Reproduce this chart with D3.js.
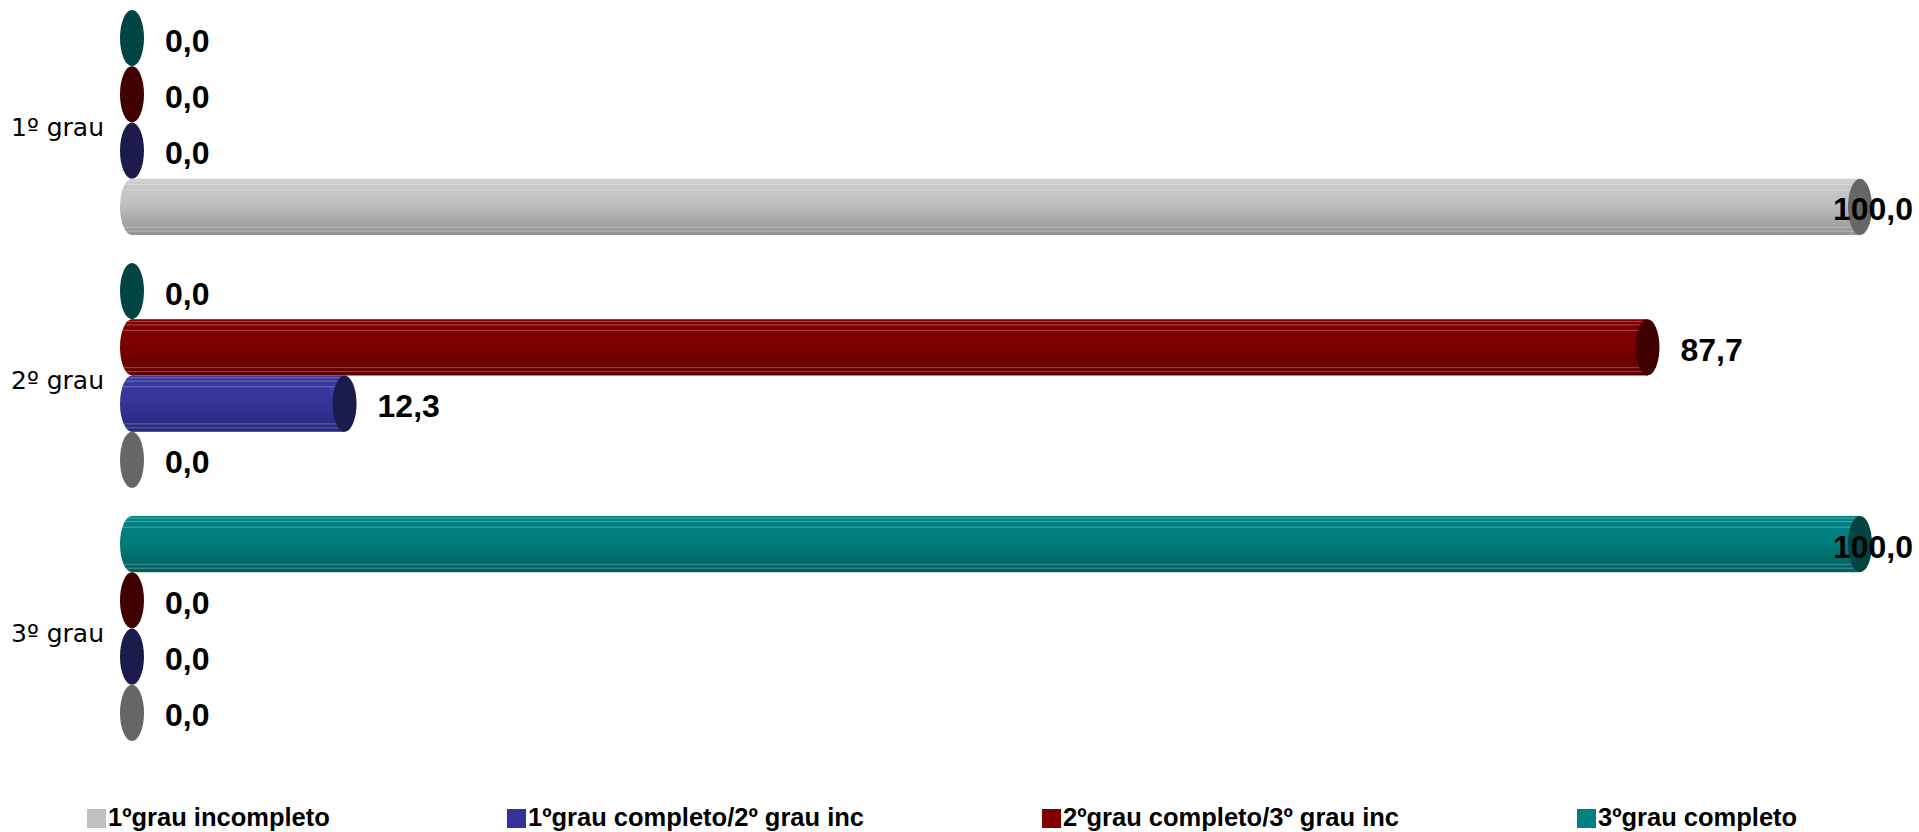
<!DOCTYPE html>
<html>
<head>
<meta charset="utf-8">
<script src="https://cdn.jsdelivr.net/npm/d3@7/dist/d3.min.js"></script>
<style>
  html, body { margin: 0; padding: 0; background: #ffffff; }
  svg { display: block; }
</style>
</head>
<body>
<script>
// ---- Data ----
const categories = ["1º grau", "2º grau", "3º grau"];
const seriesNames = [
  "1ºgrau incompleto",
  "1ºgrau completo/2º grau inc",
  "2ºgrau completo/3º grau inc",
  "3ºgrau completo"
];
const valIncompleto1 = [100.0, 0.0, 0.0];
const valCompleto1   = [0.0, 12.3, 0.0];
const valCompleto2   = [0.0, 87.7, 0.0];
const valCompleto3   = [0.0, 0.0, 100.0];
const seriesValues = [valIncompleto1, valCompleto1, valCompleto2, valCompleto3];
// draw order within a category, top to bottom
const stackOrder = [3, 2, 1, 0];

// ---- Styles ----
const bodyTop    = ["#cdcdcd", "#3a3aa2", "#840000", "#008585"];
const bodyBottom = ["#939393", "#28287e", "#640000", "#005f5f"];
const capColor   = ["#666666", "#1c1c4c", "#400000", "#004444"];
const legendColor = ["#c0c0c0", "#333399", "#800000", "#008080"];

const W = 1919, H = 832;
const svg = d3.select("body").append("svg").attr("width", W).attr("height", H);

const x = d3.scaleLinear().domain([0, 100]).range([132, 1860]);
const y = d3.scaleBand().domain(categories).range([-4, 755]).paddingInner(0.11).paddingOuter(0.055);
const ys = d3.scaleBand().domain(stackOrder).range([0, y.bandwidth()]).padding(0);

const defs = svg.append("defs");
seriesNames.forEach((s, i) => {
  const g = defs.append("linearGradient").attr("id", "grad" + i)
    .attr("x1", 0).attr("y1", 0).attr("x2", 0).attr("y2", 1);
  g.append("stop").attr("offset", "0%").attr("stop-color", bodyTop[i]);
  g.append("stop").attr("offset", "45%").attr("stop-color", d3.interpolateRgb(bodyTop[i], bodyBottom[i])(0.25));
  g.append("stop").attr("offset", "100%").attr("stop-color", bodyBottom[i]);
});

const rx = 12;
const stripeFractions = [0.04, 0.1, 0.2, 0.86, 0.93];

// build records
const records = [];
categories.forEach((c, ci) => {
  stackOrder.forEach(si => {
    records.push({ cat: c, s: si, v: seriesValues[si][ci] });
  });
});

const bars = svg.append("g").selectAll("g.bar").data(records).join("g").attr("class", "bar");

bars.each(function(d) {
  const g = d3.select(this);
  const top = y(d.cat) + ys(d.s);
  const h = ys.bandwidth();
  const cy = top + h / 2;
  const x0 = x(0), x1 = x(d.v);
  if (d.v > 0) {
    g.append("ellipse").attr("cx", x0).attr("cy", cy).attr("rx", rx).attr("ry", h / 2)
      .attr("fill", "url(#grad" + d.s + ")");
    g.append("rect").attr("x", x0).attr("y", top).attr("width", x1 - x0).attr("height", h)
      .attr("fill", "url(#grad" + d.s + ")");
    stripeFractions.forEach(f => {
      const yy = top + f * h;
      const half = h / 2;
      const dy = (yy - cy) / half;
      const off = rx * Math.sqrt(Math.max(0, 1 - dy * dy));
      g.append("line").attr("x1", x0 - off).attr("x2", x1)
        .attr("y1", yy).attr("y2", yy)
        .attr("stroke", "#ffffff").attr("stroke-opacity", 0.28).attr("stroke-width", 1);
    });
  }
  g.append("ellipse").attr("cx", x1).attr("cy", cy).attr("rx", rx).attr("ry", h / 2)
    .attr("fill", capColor[d.s]);
});

// value labels
const fmt = v => v.toFixed(1).replace(".", ",");
const labels = svg.append("g").selectAll("text").data(records).join("text")
  .attr("font-family", "'Liberation Sans', Arial, sans-serif")
  .attr("font-weight", "bold")
  .attr("font-size", 32)
  .attr("fill", "#000")
  .attr("dy", "0.36em")
  .attr("y", d => y(d.cat) + ys(d.s) + ys.bandwidth() / 2 + 2)
  .text(d => fmt(d.v));
labels.each(function(d) {
  const t = d3.select(this);
  const wdt = this.getComputedTextLength();
  let xx = x(d.v) + 33;
  if (xx + wdt > 1913) xx = 1913 - wdt;
  t.attr("x", xx);
});

// category labels
svg.append("g").selectAll("text").data(categories).join("text")
  .attr("x", 104)
  .attr("y", d => y(d) + y.bandwidth() / 2 + 5)
  .attr("text-anchor", "end")
  .attr("dy", "0.35em")
  .attr("font-family", "'DejaVu Sans', Verdana, sans-serif")
  .attr("font-size", 25)
  .attr("fill", "#000")
  .text(d => d);

// legend
const legendX = [87, 507, 1042, 1577];
const leg = svg.append("g").selectAll("g").data(seriesNames).join("g")
  .attr("transform", (d, i) => `translate(${legendX[i]},809)`);
leg.append("rect").attr("width", 19).attr("height", 19).attr("fill", (d, i) => legendColor[i]);
leg.append("text").attr("x", 21).attr("y", 17)
  .attr("font-family", "'Liberation Sans', Arial, sans-serif")
  .attr("font-weight", "bold")
  .attr("font-size", 25.5)
  .attr("fill", "#000")
  .text(d => d);
</script>
</body>
</html>
